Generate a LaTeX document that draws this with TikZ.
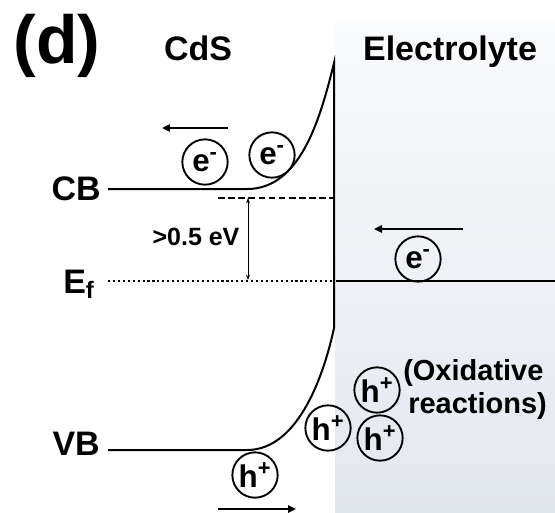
\documentclass[tikz,border=0pt]{standalone}
\usepackage{fontspec}
\setmainfont{Liberation Sans}
\usetikzlibrary{arrows.meta}
\begin{document}
\begin{tikzpicture}[x=0.75pt,y=-0.75pt,
  band/.style={line width=1.5pt},
  carrier/.style={circle,draw,line width=1.4pt,minimum size=34pt,inner sep=0pt,font=\fontsize{23.5}{26}\selectfont\bfseries},
  flow/.style={line width=1.5pt,-{Triangle[length=6pt,width=5.5pt]}},
  lbl/.style={font=\fontsize{25.5}{28}\selectfont\bfseries,inner sep=0pt},
  ox/.style={font=\fontsize{21.75}{24}\selectfont\bfseries,inner sep=0pt}]
\useasboundingbox (0,0) rectangle (555,512);
% electrolyte panel
\shade[top color={rgb,255:red,250;green,251;blue,253},bottom color={rgb,255:red,227;green,231;blue,238}] (335,22) rectangle (555,512);
% titles
\node[font=\fontsize{51}{56}\selectfont\bfseries,inner sep=0pt] (d) at (57,46) {(d)};
\node[lbl,anchor=base] (cds) at (198,60) {CdS};
\node[lbl,anchor=base] (el) at (450,60) {Electrolyte};
\node[lbl,anchor=base east] (cb) at (101,200) {CB};
\node[lbl,anchor=base east] (vb) at (100,455) {VB};
\node[lbl,anchor=base west] (ef) at (63,293) {E\textsubscript{f}};
% band coordinates
\coordinate (cbL) at (108,189);
\coordinate (cbK) at (247,189);
\coordinate (top) at (334,63);
\coordinate (mid) at (334,328);
\coordinate (vbL) at (108,450);
\coordinate (vbK) at (247,450);
\draw[band,line join=miter] (cbL) -- (cbK) .. controls (300,189) and (320,120) .. (top) -- (mid) .. controls (325,370) and (300,450) .. (vbK) -- (vbL);
% dashed and dotted levels
\coordinate (dsL) at (218,198);
\coordinate (dsR) at (334,198);
\draw[line width=1.7pt,dash pattern=on 5pt off 2.6pt] (dsL) -- (dsR);
\coordinate (efL) at (108,281);
\coordinate (efR) at (334,281);
\draw[line width=1.7pt,dash pattern=on 1.6pt off 2.1pt] (efL) -- (efR);
\coordinate (elL) at (336,281);
\coordinate (elR) at (555,281);
\draw[band] (elL) -- (elR);
% gap arrow
\coordinate (gT) at (248,198);
\coordinate (gB) at (248,280);
\draw[line width=0.7pt,{Stealth[length=4pt,width=3pt]}-{Stealth[length=4pt,width=3pt]}] (gT) -- (gB);
\node[font=\fontsize{18.75}{21}\selectfont\bfseries,inner sep=0pt] (gap) at (196,237) {>0.5 eV};
% carriers
\node[carrier] (e1) at (205,162) {e\textsuperscript{-}};
\node[carrier] (e2) at (272,155) {e\textsuperscript{-}};
\node[carrier] (e3) at (418,259) {e\textsuperscript{-}};
\node[carrier] (h1) at (255,475) {h\textsuperscript{+}};
\node[carrier] (h2) at (328,428) {h\textsuperscript{+}};
\node[carrier] (h3) at (377,390) {h\textsuperscript{+}};
\node[carrier] (h4) at (380,438) {h\textsuperscript{+}};
% flow arrows
\coordinate (a1s) at (228,128); \coordinate (a1e) at (162,128);
\draw[flow] (a1s) -- (a1e);
\coordinate (a2s) at (463,229); \coordinate (a2e) at (374,229);
\draw[flow] (a2s) -- (a2e);
\coordinate (a3s) at (218,509); \coordinate (a3e) at (296,509);
\draw[flow] (a3s) -- (a3e);
% oxidative text
\node[ox,anchor=base west] (ox1) at (403,380) {(Oxidative};
\node[ox,anchor=base west] (ox2) at (408,413) {reactions)};
\end{tikzpicture}
\end{document}
